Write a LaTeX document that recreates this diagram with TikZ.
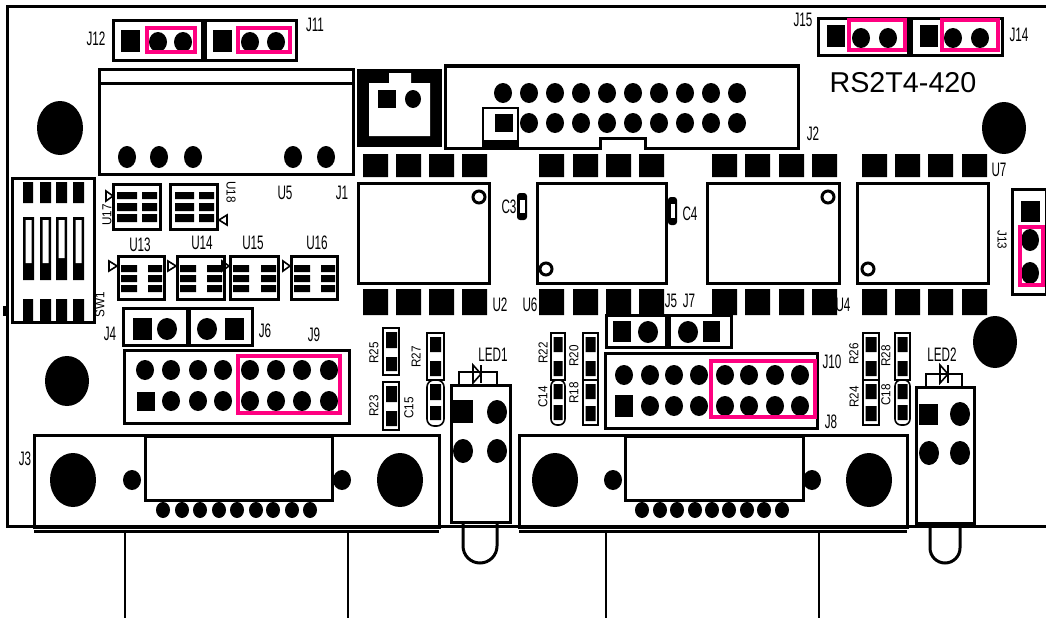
\documentclass[tikz,border=0pt]{standalone}
\usepackage{fontspec}
\setmainfont{Liberation Sans}
\newfontfamily\silkfont[FakeStretch=0.6]{Liberation Sans}
\newfontfamily\silkvfont[FakeStretch=0.9]{Liberation Sans}
\definecolor{jumper}{RGB}{255,0,128}
\begin{document}
\begin{tikzpicture}[x=1pt,y=1pt]
    \tikzstyle{every node}+=[inner sep=0pt]
    \tikzstyle{silk}=[font=\fontsize{19.5}{19.5}\silkfont]
    \tikzstyle{silkv}=[font=\fontsize{13}{13}\silkvfont]
    \tikzstyle{outline}=[black, line width=3pt]
    \tikzstyle{thinline}=[black, line width=1.6pt]
    \tikzstyle{jump}=[jumper, line width=4.5pt]
    \useasboundingbox (0,0) rectangle (1046,-618);
    \fill [white] (0,0) rectangle (1046,-618);
    \draw [outline] (1046,-7) -- (7,-7) -- (7,-526) -- (1046,-526);
    \fill [black] (3,-306) rectangle (8,-316);
    \fill [black] (60,-128) ellipse (23 and 27);
    \fill [black] (67,-381) ellipse (22 and 25);
    \fill [black] (1004,-128) ellipse (22 and 26);
    \fill [black] (995,-342) ellipse (22 and 26);
    \draw [outline] (113,-21) rectangle (202,-61);
    \fill [black] (121,-30) rectangle (140,-52);
    \fill [black] (158,-42) ellipse (9 and 10) (183,-42) ellipse (9 and 10);
    \draw [jump] (147,-28) rectangle (195,-52);
    \draw (96,-39) node[silk] (j12) {J12};
    \draw [outline] (205,-21) rectangle (296,-61);
    \fill [black] (213,-30) rectangle (232,-52);
    \fill [black] (250,-42) ellipse (9 and 10) (276,-42) ellipse (9 and 10);
    \draw [jump] (238,-28) rectangle (290,-52);
    \draw (315,-25) node[silk] (j11) {J11};
    \draw [outline] (818,-19) rectangle (908,-56);
    \fill [black] (827,-25) rectangle (845,-47);
    \fill [black] (861,-38) ellipse (9 and 10) (888,-38) ellipse (9 and 10);
    \draw [jump] (849,-20) rectangle (905,-50);
    \draw (803,-20) node[silk] (j15) {J15};
    \draw [outline] (911,-19) rectangle (1002,-56);
    \fill [black] (920,-25) rectangle (938,-47);
    \fill [black] (953,-38) ellipse (9 and 10) (980,-38) ellipse (9 and 10);
    \draw [jump] (942,-20) rectangle (998,-50);
    \draw (1019,-35) node[silk] (j14) {J14};
    \draw (903,-83) node[font=\fontsize{28.7}{28.7}\selectfont] (board) {RS2T4-420};
    \draw [outline] (99,-69) rectangle (353,-174);
    \draw [outline] (99,-83) -- (353,-83);
    \fill [black] (127,-157) ellipse (9 and 11) (159,-157) ellipse (9 and 11) (193,-157) ellipse (9 and 11);
    \fill [black] (293,-157) ellipse (9 and 11) (326,-157) ellipse (9 and 11);
    \draw (285,-193) node[silk] (u5) {U5};
    \draw (342,-193) node[silk] (j1) {J1};
    \fill [black] (357,-69) rectangle (442,-147);
    \fill [white] (369,-83) -- (389,-83) -- (389,-73) -- (411,-73) -- (411,-83) -- (430,-83) -- (430,-136) -- (369,-136) -- cycle;
    \fill [black] (378,-90) rectangle (396,-108);
    \fill [black] (413,-99) ellipse (8 and 9);
    \draw [outline] (445,-66) -- (798,-66) -- (798,-148) -- (645,-148) -- (645,-138) -- (600,-138) -- (600,-148) -- (445,-148) -- cycle;
    \fill [black] (503,-93) ellipse (9 and 10) (529,-93) ellipse (9 and 10) (555,-93) ellipse (9 and 10) (581,-93) ellipse (9 and 10) (607,-93) ellipse (9 and 10);
    \fill [black] (633,-93) ellipse (9 and 10) (659,-93) ellipse (9 and 10) (685,-93) ellipse (9 and 10) (711,-93) ellipse (9 and 10) (737,-93) ellipse (9 and 10);
    \draw [thinline] (483,-108) rectangle (518,-148);
    \fill [black] (483,-140) rectangle (518,-148);
    \fill [black] (495,-114) rectangle (513,-132);
    \fill [black] (529,-123) ellipse (9 and 10) (555,-123) ellipse (9 and 10) (581,-123) ellipse (9 and 10) (607,-123) ellipse (9 and 10) (633,-123) ellipse (9 and 10);
    \fill [black] (659,-123) ellipse (9 and 10) (685,-123) ellipse (9 and 10) (711,-123) ellipse (9 and 10) (737,-123) ellipse (9 and 10);
    \draw (813,-134) node[silk] (j2) {J2};
    \fill [black] (363,-154) rectangle (388,-177) (396,-154) rectangle (421,-177) (429,-154) rectangle (454,-177) (462,-154) rectangle (487,-177);
    \fill [black] (539,-154) rectangle (564,-177) (573,-154) rectangle (598,-177) (606,-154) rectangle (631,-177) (639,-154) rectangle (664,-177);
    \fill [black] (712,-154) rectangle (737,-177) (745,-154) rectangle (770,-177) (779,-154) rectangle (804,-177) (812,-154) rectangle (837,-177);
    \fill [black] (862,-154) rectangle (887,-177) (895,-154) rectangle (920,-177) (928,-154) rectangle (953,-177) (962,-154) rectangle (987,-177);
    \fill [black] (363,-289) rectangle (388,-315) (396,-289) rectangle (421,-315) (429,-289) rectangle (454,-315) (462,-289) rectangle (487,-315);
    \fill [black] (539,-289) rectangle (564,-315) (573,-289) rectangle (598,-315) (606,-289) rectangle (631,-315) (639,-289) rectangle (664,-315);
    \fill [black] (712,-289) rectangle (737,-315) (745,-289) rectangle (770,-315) (779,-289) rectangle (804,-315) (812,-289) rectangle (837,-315);
    \fill [black] (862,-289) rectangle (887,-315) (895,-289) rectangle (920,-315) (928,-289) rectangle (953,-315) (962,-289) rectangle (987,-315);
    \draw [outline] (358,-183) rectangle (489,-283);
    \draw [outline] (479,-197) circle (6);
    \draw [outline] (537,-183) rectangle (666,-283);
    \draw [outline] (546,-269) circle (6);
    \draw [outline] (707,-183) rectangle (839,-283);
    \draw [outline] (828,-197) circle (6);
    \draw [outline] (857,-183) rectangle (988,-283);
    \draw [outline] (868,-269) circle (6);
    \draw (999,-170) node[silk] (u7) {U7};
    \draw (500,-305) node[silk] (u2) {U2};
    \draw (530,-305) node[silk] (u6) {U6};
    \draw (843,-305) node[silk] (u4) {U4};
    \fill [black, rounded corners=3pt] (517,-193) rectangle (527,-220);
    \fill [white] (519.5,-200) rectangle (524.5,-213);
    \draw (509,-207) node[silk] (c3) {C3};
    \fill [black, rounded corners=3pt] (668,-197) rectangle (677,-225);
    \fill [white] (670.5,-204) rectangle (674.5,-218);
    \draw (690,-214) node[silk] (c4) {C4};
    \draw [outline] (12,-178) rectangle (94,-322);
    \fill [black] (23,-182) rectangle (33,-203) (40,-182) rectangle (51,-203) (56,-182) rectangle (67,-203) (73,-182) rectangle (84,-203);
    \fill [black] (23,-299) rectangle (33,-321) (40,-299) rectangle (51,-321) (56,-299) rectangle (67,-321) (73,-299) rectangle (84,-321);
    \fill [black] (23,-217) rectangle (34,-280) (40,-217) rectangle (51,-280) (56,-217) rectangle (67,-280) (73,-217) rectangle (84,-280);
    \fill [white] (25.5,-220) rectangle (31.5,-263) (42.5,-220) rectangle (48.5,-263) (58.5,-220) rectangle (64.5,-258) (75.5,-220) rectangle (81.5,-263);
    \draw (100,-305) node[silkv, rotate=90] (sw1) {SW1};
    \draw [outline] (113,-184) rectangle (160,-229);
    \fill [black] (117,-192) rectangle (137,-199) (117,-203) rectangle (137,-211) (117,-214) rectangle (137,-222);
    \fill [black] (142,-192) rectangle (157,-199) (142,-203) rectangle (157,-211) (142,-214) rectangle (157,-222);
    \draw [thinline] (106,-191) -- (113,-196) -- (106,-201) -- cycle;
    \draw (107,-215) node[silkv, rotate=90] (u17) {U17};
    \draw [outline] (170,-184) rectangle (217,-229);
    \fill [black] (175,-192) rectangle (194,-199) (175,-203) rectangle (194,-211) (175,-214) rectangle (194,-222);
    \fill [black] (199,-192) rectangle (214,-199) (199,-203) rectangle (214,-211) (199,-214) rectangle (214,-222);
    \draw [thinline] (227,-215) -- (219,-220) -- (227,-225) -- cycle;
    \draw (231,-192) node[silkv, rotate=-90] (u18) {U18};
    \draw [outline] (118,-256) rectangle (164,-299);
    \fill [black] (121,-265) rectangle (137,-272) (121,-275) rectangle (137,-282) (121,-285) rectangle (137,-292);
    \fill [black] (148,-265) rectangle (162,-272) (148,-275) rectangle (162,-282) (148,-285) rectangle (162,-292);
    \draw [thinline] (109,-261) -- (117,-266) -- (109,-271) -- cycle;
    \draw (140,-245) node[silk] (u13) {U13};
    \draw [outline] (177,-256) rectangle (224,-299);
    \fill [black] (180,-265) rectangle (196,-272) (180,-275) rectangle (196,-282) (180,-285) rectangle (196,-292);
    \fill [black] (207,-265) rectangle (222,-272) (207,-275) rectangle (222,-282) (207,-285) rectangle (222,-292);
    \draw [thinline] (168,-261) -- (176,-266) -- (168,-271) -- cycle;
    \draw (202,-243) node[silk] (u14) {U14};
    \draw [outline] (230,-256) rectangle (278,-299);
    \fill [black] (233,-265) rectangle (249,-272) (233,-275) rectangle (249,-282) (233,-285) rectangle (249,-292);
    \fill [black] (261,-265) rectangle (276,-272) (261,-275) rectangle (276,-282) (261,-285) rectangle (276,-292);
    \draw [thinline] (222,-261) -- (229,-266) -- (222,-271) -- cycle;
    \draw (253,-243) node[silk] (u15) {U15};
    \draw [outline] (291,-256) rectangle (337,-299);
    \fill [black] (294,-265) rectangle (310,-272) (294,-275) rectangle (310,-282) (294,-285) rectangle (310,-292);
    \fill [black] (321,-265) rectangle (335,-272) (321,-275) rectangle (335,-282) (321,-285) rectangle (335,-292);
    \draw [thinline] (283,-261) -- (290,-266) -- (283,-271) -- cycle;
    \draw (317,-243) node[silk] (u16) {U16};
    \draw [outline] (123,-308) rectangle (187,-345);
    \fill [black] (133,-318) rectangle (152,-340);
    \fill [black] (167,-329) ellipse (10 and 11);
    \draw [outline] (189,-308) rectangle (252,-345);
    \fill [black] (207,-329) ellipse (10 and 11);
    \fill [black] (225,-318) rectangle (244,-340);
    \draw (110,-334) node[silk] (j4) {J4};
    \draw (265,-331) node[silk] (j6) {J6};
    \draw [outline] (124,-350) rectangle (349,-423);
    \fill [black] (145,-370) ellipse (9 and 10) (171,-370) ellipse (9 and 10) (198,-370) ellipse (9 and 10) (223,-370) ellipse (9 and 10);
    \fill [black] (250,-370) ellipse (9 and 10) (276,-370) ellipse (9 and 10) (302,-370) ellipse (9 and 10) (329,-370) ellipse (9 and 10);
    \fill [black] (137,-392) rectangle (155,-411);
    \fill [black] (171,-401) ellipse (9 and 10) (198,-401) ellipse (9 and 10) (223,-401) ellipse (9 and 10);
    \fill [black] (250,-401) ellipse (9 and 10) (276,-401) ellipse (9 and 10) (302,-401) ellipse (9 and 10) (329,-401) ellipse (9 and 10);
    \draw [jump] (238,-356) rectangle (340,-413);
    \draw (314,-335) node[silk] (j9) {J9};
    \draw [thinline] (383,-328) rectangle (399,-375);
    \fill [black] (386,-332) rectangle (397,-348) (386,-357) rectangle (397,-371);
    \draw [thinline] (383,-382) rectangle (399,-430);
    \fill [black] (386,-386) rectangle (397,-402) (386,-411) rectangle (397,-426);
    \draw [thinline] (427,-333) rectangle (444,-380);
    \fill [black] (430,-337) rectangle (441,-352) (430,-361) rectangle (441,-376);
    \draw [thinline, rounded corners=7pt] (427,-380) rectangle (444,-426);
    \fill [black] (430,-384) rectangle (441,-400) (430,-406) rectangle (441,-420);
    \draw (374,-353) node[silkv, rotate=90] (r25) {R25};
    \draw (374,-406) node[silkv, rotate=90] (r23) {R23};
    \draw (409,-408) node[silkv, rotate=90] (c15) {C15};
    \draw (416,-357) node[silkv, rotate=90] (r27) {R27};
    \draw [outline] (451,-385) rectangle (510,-522);
    \draw [thinline] (459,-372) rectangle (497,-385);
    \draw [thinline] (473,-365) -- (481,-374) -- (473,-383) -- cycle;
    \draw [thinline] (481,-365) -- (481,-383);
    \fill [black] (453,-400) rectangle (473,-423);
    \fill [black] (497,-412) ellipse (10 and 12) (463,-451) ellipse (10 and 12) (497,-451) ellipse (10 and 12);
    \draw [outline] (463,-522) -- (463,-546) arc (180:360:17) -- (497,-522);
    \draw (493,-355) node[silk] (led1) {LED1};
    \draw [outline] (606,-315) rectangle (666,-347);
    \fill [black] (613,-321) rectangle (631,-342);
    \fill [black] (648,-332) ellipse (10 and 11);
    \draw [outline] (669,-315) rectangle (731,-347);
    \fill [black] (688,-332) ellipse (10 and 11);
    \fill [black] (703,-321) rectangle (720,-342);
    \draw (671,-301) node[silk] (j5) {J5};
    \draw (689,-301) node[silk] (j7) {J7};
    \draw [outline] (605,-353) rectangle (817,-428);
    \fill [black] (624,-375) ellipse (9 and 10) (650,-375) ellipse (9 and 10) (674,-375) ellipse (9 and 10) (699,-375) ellipse (9 and 10);
    \fill [black] (725,-375) ellipse (9 and 10) (749,-375) ellipse (9 and 10) (775,-375) ellipse (9 and 10) (800,-375) ellipse (9 and 10);
    \fill [black] (615,-395) rectangle (633,-417);
    \fill [black] (650,-406) ellipse (9 and 10) (674,-406) ellipse (9 and 10) (699,-406) ellipse (9 and 10);
    \fill [black] (725,-406) ellipse (9 and 10) (749,-406) ellipse (9 and 10) (775,-406) ellipse (9 and 10) (800,-406) ellipse (9 and 10);
    \draw [jump] (711,-361) rectangle (815,-417);
    \draw (832,-362) node[silk] (j10) {J10};
    \draw (831,-422) node[silk] (j8) {J8};
    \draw [thinline] (551,-333) rectangle (565,-380);
    \fill [black] (553.5,-337) rectangle (562.5,-352) (553.5,-361) rectangle (562.5,-376);
    \draw [thinline, rounded corners=6pt] (551,-380) rectangle (565,-425);
    \fill [black] (553.5,-384) rectangle (562.5,-399) (553.5,-405) rectangle (562.5,-420);
    \draw [thinline] (583,-333) rectangle (598,-380);
    \fill [black] (585.5,-337) rectangle (595.5,-352) (585.5,-361) rectangle (595.5,-376);
    \draw [thinline] (583,-380) rectangle (598,-425);
    \fill [black] (585.5,-384) rectangle (595.5,-399) (585.5,-406) rectangle (595.5,-421);
    \draw (543,-353) node[silkv, rotate=90] (r22) {R22};
    \draw (574,-356) node[silkv, rotate=90] (r20) {R20};
    \draw (543,-397) node[silkv, rotate=90] (c14) {C14};
    \draw (574,-393) node[silkv, rotate=90] (r18) {R18};
    \draw [thinline] (863,-333) rectangle (879,-380);
    \fill [black] (865.5,-337) rectangle (876.5,-352) (865.5,-361) rectangle (876.5,-376);
    \draw [thinline] (863,-380) rectangle (879,-425);
    \fill [black] (865.5,-384) rectangle (876.5,-399) (865.5,-406) rectangle (876.5,-421);
    \draw [thinline] (895,-333) rectangle (910,-380);
    \fill [black] (897.5,-337) rectangle (907.5,-352) (897.5,-361) rectangle (907.5,-376);
    \draw [thinline, rounded corners=6pt] (895,-380) rectangle (910,-425);
    \fill [black] (897.5,-384) rectangle (907.5,-399) (897.5,-405) rectangle (907.5,-420);
    \draw (854,-354) node[silkv, rotate=90] (r26) {R26};
    \draw (886,-356) node[silkv, rotate=90] (r28) {R28};
    \draw (854,-397) node[silkv, rotate=90] (r24) {R24};
    \draw (886,-395) node[silkv, rotate=90] (c18) {C18};
    \draw [outline] (916,-387) rectangle (974,-523);
    \draw [thinline] (926,-374) rectangle (962,-387);
    \draw [thinline] (940,-365) -- (948,-374) -- (940,-383) -- cycle;
    \draw [thinline] (948,-365) -- (948,-383);
    \fill [black] (919,-404) rectangle (938,-425);
    \fill [black] (960,-414) ellipse (10 and 12) (929,-453) ellipse (10 and 12) (960,-453) ellipse (10 and 12);
    \draw [outline] (930,-523) -- (930,-548) arc (180:360:15) -- (960,-523);
    \draw (942,-355) node[silk] (led2) {LED2};
    \draw [outline] (1012,-189) rectangle (1046,-294);
    \fill [black] (1021,-201) rectangle (1040,-222);
    \fill [black] (1030,-240) ellipse (9 and 11) (1030,-273) ellipse (9 and 11);
    \draw [jump] (1020,-227) rectangle (1043,-285);
    \draw (1002,-240) node[silkv, rotate=-90] (j13) {J13};
    \draw [outline] (34,-435) rectangle (439,-527);
    \draw [outline] (34,-531) -- (439,-531);
    \draw [outline] (145,-436) rectangle (332,-500);
    \fill [black] (73,-480) ellipse (23 and 27) (400,-480) ellipse (23 and 27);
    \fill [black] (132,-480) ellipse (9 and 10) (342,-480) ellipse (9 and 10);
    \fill [black] (163,-510) ellipse (7 and 8) (182,-510) ellipse (7 and 8) (200,-510) ellipse (7 and 8) (219,-510) ellipse (7 and 8) (237,-510) ellipse (7 and 8);
    \fill [black] (256,-510) ellipse (7 and 8) (273,-510) ellipse (7 and 8) (292,-510) ellipse (7 and 8) (310,-510) ellipse (7 and 8);
    \draw [thinline] (125,-531) -- (125,-618);
    \draw [thinline] (348,-531) -- (348,-618);
    \draw (25,-459) node[silk] (j3) {J3};
    \draw [outline] (519,-435) rectangle (907,-527);
    \draw [outline] (519,-531) -- (907,-531);
    \draw [outline] (625,-436) rectangle (803,-500);
    \fill [black] (555,-480) ellipse (23 and 27) (869,-480) ellipse (23 and 27);
    \fill [black] (613,-480) ellipse (9 and 10) (812,-480) ellipse (9 and 10);
    \fill [black] (642,-510) ellipse (7 and 8) (660,-510) ellipse (7 and 8) (677,-510) ellipse (7 and 8) (695,-510) ellipse (7 and 8) (712,-510) ellipse (7 and 8);
    \fill [black] (729,-510) ellipse (7 and 8) (747,-510) ellipse (7 and 8) (764,-510) ellipse (7 and 8) (782,-510) ellipse (7 and 8);
    \draw [thinline] (606,-531) -- (606,-618);
    \draw [thinline] (819,-531) -- (819,-618);
\end{tikzpicture}
\end{document}
